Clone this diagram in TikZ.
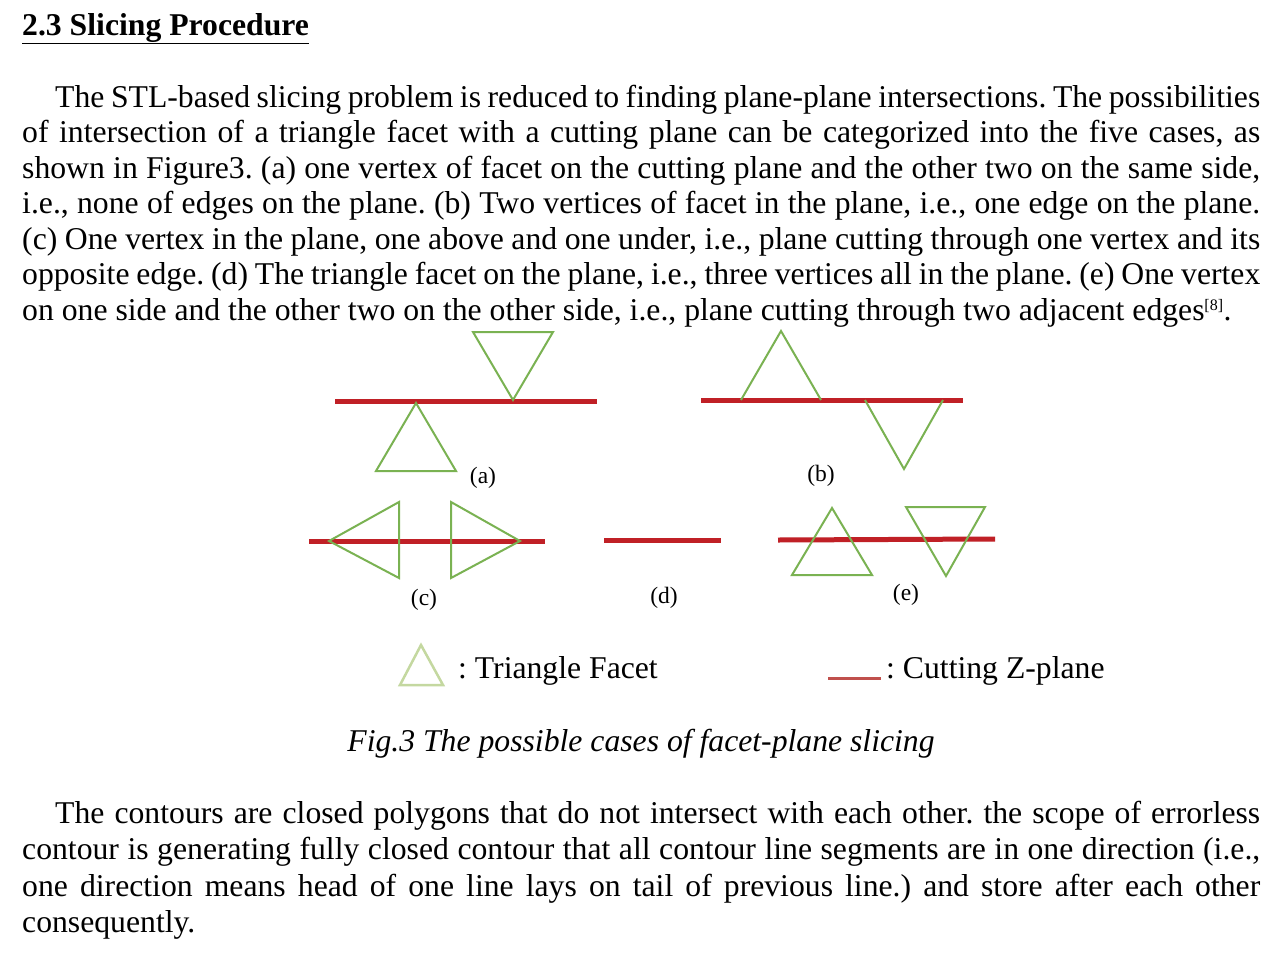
\documentclass[tikz,border=0pt]{standalone}
\usepackage{fontspec}
\setmainfont{Liberation Serif}
\frenchspacing
\definecolor{facetgreen}{RGB}{122,178,82}
\definecolor{planered}{RGB}{192,32,38}
\definecolor{legendgreen}{RGB}{196,216,160}
\definecolor{legendred}{RGB}{192,80,77}
\newcommand\jline[2]{\makebox[#1pt][s]{#2}}
\begin{document}
\begin{tikzpicture}[x=1pt,y=-1pt,
  facet/.style={draw=facetgreen,line width=2pt,line join=miter},
  zplane/.style={draw=planered,line width=5pt},
  legfacet/.style={draw=legendgreen,line width=2.5pt,line join=miter},
  legplane/.style={draw=legendred,line width=3pt},
  body/.style={anchor=base west,inner sep=0pt,font=\fontsize{31.7}{35.5}\selectfont},
  lbl/.style={inner sep=0pt,font=\fontsize{23.5}{26}\selectfont}]
\fill[white] (0,0) rectangle (1280,956);
\useasboundingbox (0,0) rectangle (1280,956);

% heading
\node[body,font=\fontsize{31.7}{35.5}\selectfont\bfseries] (head) at (22,35) {\underline{2.3 Slicing Procedure}};

% paragraph 1
\node[body] (p1l1) at (55,107)  {\jline{1205}{The STL-based slicing problem is reduced to finding plane-plane intersections. The possibilities}};
\node[body] (p1l2) at (22,142.5){\jline{1238}{of intersection of a triangle facet with a cutting plane can be categorized into the five cases, as}};
\node[body] (p1l3) at (22,178)  {\jline{1238}{shown in Figure3. (a) one vertex of facet on the cutting plane and the other two on the same side,}};
\node[body] (p1l4) at (22,213.5){\jline{1238}{i.e., none of edges on the plane. (b) Two vertices of facet in the plane, i.e., one edge on the plane.}};
\node[body] (p1l5) at (22,249)  {\jline{1238}{(c) One vertex in the plane, one above and one under, i.e., plane cutting through one vertex and its}};
\node[body] (p1l6) at (22,284.5){\jline{1238}{opposite edge. (d) The triangle facet on the plane, i.e., three vertices all in the plane. (e) One vertex}};
\node[body] (p1l7) at (22,320)  {on one side and the other two on the other side, i.e., plane cutting through two adjacent edges\textsuperscript{\fontsize{16}{16}\selectfont[8]}.};

% (a)
\draw[zplane] (335,401) -- (597,401);
\draw[facet] (473,332) -- (553,332) -- (513,400) -- cycle;
\draw[facet] (416,403) -- (456,471) -- (376,471) -- cycle;
\node[lbl] (la) at (483,478) {(a)};

% (b)
\draw[zplane] (701,400) -- (963,400);
\draw[facet] (741,400) -- (781,331) -- (821,400);
\draw[facet] (865,400) -- (904,469) -- (943,400);
\node[lbl] (lb) at (821,476) {(b)};

% (c)
\draw[zplane] (309,541) -- (545,541);
\draw[facet] (329,541) -- (399,502) -- (399,578) -- cycle;
\draw[facet] (520,541) -- (451,502) -- (451,578) -- cycle;
\node[lbl] (lc) at (424,600) {(c)};

% (d)
\draw[zplane] (604,540) -- (721,540);
\node[lbl] (ld) at (664,598) {(d)};

% (e)
\draw[zplane] (778,540) -- (995,539);
\draw[facet] (832,508) -- (872,575) -- (792,575) -- cycle;
\draw[facet] (906,507) -- (985,507) -- (946,576) -- cycle;
\node[lbl] (le) at (906,595) {(e)};

% legend
\draw[legfacet] (421,645) -- (443,685) -- (400,685) -- cycle;
\node[body] (legf) at (458,678) {: Triangle Facet};
\draw[legplane] (828,678) -- (881,678);
\node[body] (legp) at (886,678) {: Cutting Z-plane};

% caption
\node[body,anchor=base,font=\fontsize{31.7}{35.5}\selectfont\itshape] (cap) at (641,751) {Fig.3 The possible cases of facet-plane slicing};

% paragraph 2
\node[body] (p2l1) at (55,823) {\jline{1205}{The contours are closed polygons that do not intersect with each other. the scope of errorless}};
\node[body] (p2l2) at (22,859) {\jline{1238}{contour is generating fully closed contour that all contour line segments are in one direction (i.e.,}};
\node[body] (p2l3) at (22,896) {\jline{1238}{one direction means head of one line lays on tail of previous line.) and store after each other}};
\node[body] (p2l4) at (22,932) {consequently.};
\end{tikzpicture}
\end{document}
